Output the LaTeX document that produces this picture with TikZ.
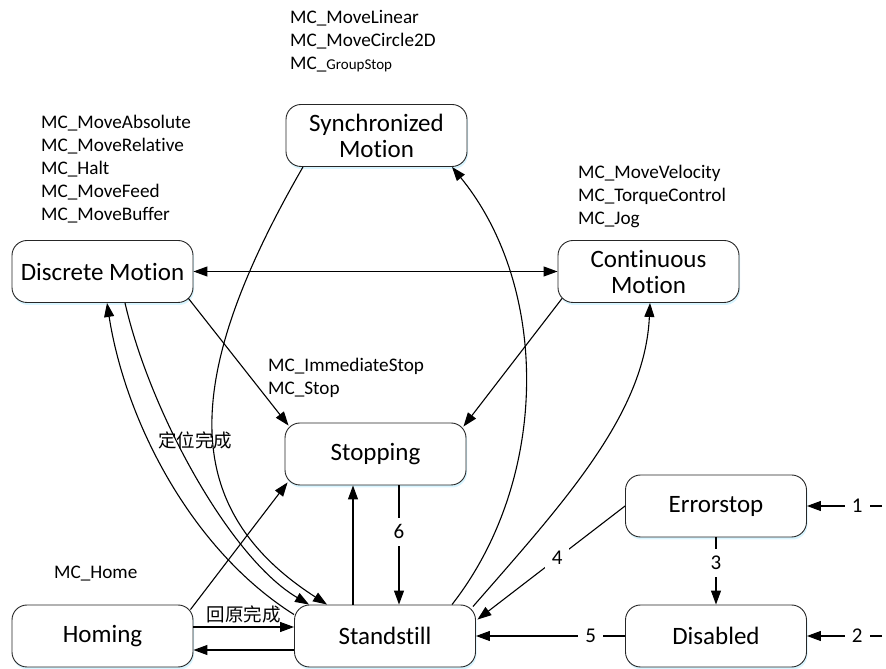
\documentclass[tikz,border=0pt]{standalone}
\usepackage{fontspec}
\setmainfont{Carlito}[Ligatures={NoCommon,NoContextual},Contextuals=NoAlternate]
\newfontfamily\cjk{Noto Sans CJK SC}
\usetikzlibrary{arrows.meta,shadows}

\begin{document}
\begin{tikzpicture}[x=1pt,y=1pt,>={Triangle[length=14pt,width=10pt]}]
\tikzstyle{every node}=[font=\fontsize{19.2}{23}\selectfont]
\tikzstyle{state}=[draw=black!85, line width=0.9pt, rounded corners=15pt, fill=white,
  minimum width=181pt, minimum height=62pt, align=center,
  font=\fontsize{25}{26}\selectfont,
  drop shadow={shadow xshift=1pt, shadow yshift=-2.5pt, fill=blue!25!cyan!25, opacity=.6}]
\tikzstyle{num}=[fill=white, inner sep=7pt, font=\fontsize{21}{22}\selectfont]
\tikzstyle{fblock}=[anchor=west, align=left, inner sep=0pt]
\tikzstyle{zh}=[font=\cjk\fontsize{18.5}{22}\selectfont, inner sep=1pt]

% white page
\path[use as bounding box, fill=white] (0,0) rectangle (886,669);

% axis states
\node[state] (sync)  at (376.5,533.5) {Synchronized\\Mot{}ion};
\node[state] (disc)  at (102.5,397.5) {Discrete Mot{}ion};
\node[state] (cont)  at (648.5,397.5) {Continuous\\Mot{}ion};
\node[state] (stop)  at (375.5,215)   {Stopping};
\node[state] (err)   at (716,163)     {Errorstop};
\node[state] (home)  at (102.5,33)    {Homing};
\node[state] (stand) at (385,33)      {Standstill};
\node[state] (dis)   at (716,33)      {Disabled};

% function blocks that lead into each state
\node[fblock] (fsync) at (290,628) {MC\_MoveLinear\\MC\_MoveCircle2D\\MC\_{\fontsize{15}{23}\selectfont GroupStop}};
\node[fblock] (fdisc) at (41,500) {MC\_MoveAbsolute\\MC\_MoveRelat{}ive\\MC\_Halt\\MC\_MoveFeed\\MC\_MoveBuffer};
\node[fblock] (fcont) at (578,473) {MC\_MoveVelocity\\MC\_TorqueControl\\MC\_Jog};
\node[fblock] (fstop) at (268,291.5) {MC\_ImmediateStop\\MC\_Stop};
\node[fblock] (fhome) at (54,95) {MC\_Home};
\node[zh] (done) at (195,229) {定位完成};

% error inputs from outside
\coordinate (in1) at (882,163);
\coordinate (in2) at (882,33);

% straight transitions
\draw[line width=1.1pt,<->] (disc.east) -- (cont.west);
\draw[line width=1.1pt,->] ([shift={(-5pt,4.5pt)}]disc.south east) -- ([shift={(4pt,-3pt)}]stop.north west);
\draw[line width=1.1pt,->] ([shift={(4.5pt,4.5pt)}]cont.south west) -- ([shift={(-3pt,-4pt)}]stop.north east);
\draw[line width=1.1pt,->] ([shift={(-3pt,-5pt)}]home.north east) -- ([shift={(3pt,3pt)}]stop.south west);
\draw[line width=1.1pt,->] ([xshift=-32pt]stand.north) -- ([xshift=-32pt]stand.north |- stop.south);
\draw[line width=1.1pt,->] ([xshift=14pt]stand.north |- stop.south) -- node[num,pos=0.39] {6} ([xshift=14pt]stand.north);
\draw[line width=1.1pt,->] ([yshift=9pt]home.east) -- node[zh,above=2pt] {回原完成} ([yshift=9pt]home.east -| stand.west);
\draw[line width=1.1pt,->] ([yshift=-14pt]stand.west) -- ([yshift=-14pt]stand.west -| home.east);

% numbered transitions
\draw[line width=1.1pt,->] (in1) -- node[num,pos=0.33] {1} (err);
\draw[line width=1.1pt,->] (in2) -- node[num,pos=0.33] {2} (dis);
\draw[line width=1.1pt,->] (err) -- node[num,pos=0.38] {3} (dis);
\draw[line width=1.1pt,->] (err.west) -- node[num,pos=0.46] {4} ([shift={(1.5pt,-15pt)}]stand.north east);
\draw[line width=1.1pt,->] (dis.west) -- node[num,pos=0.23] {5} (stand.east);

% curved transitions
\draw[line width=1.1pt,->] ([yshift=-10pt]stand.north west) .. controls (190,120) and (125,250) .. ([xshift=4.5pt]disc.south);
\draw[line width=1.1pt,->] ([xshift=22.5pt]disc.south) .. controls (150,257) and (230,111) .. ([xshift=15pt]stand.north west);
\draw[line width=1.1pt,->] ([xshift=-73.5pt]sync.south) .. controls (180,289) and (179,160) .. ([xshift=-58pt]stand.north);
\draw[line width=1.1pt,->] ([xshift=67pt]stand.north) .. controls (550,190) and (550,382) .. ([xshift=75.5pt]sync.south);
\draw[line width=1.1pt,->] ([shift={(-3pt,-2pt)}]stand.north east) .. controls (567,170) and (645,256) .. ([xshift=1.5pt]cont.south);

\end{tikzpicture}
\end{document}
